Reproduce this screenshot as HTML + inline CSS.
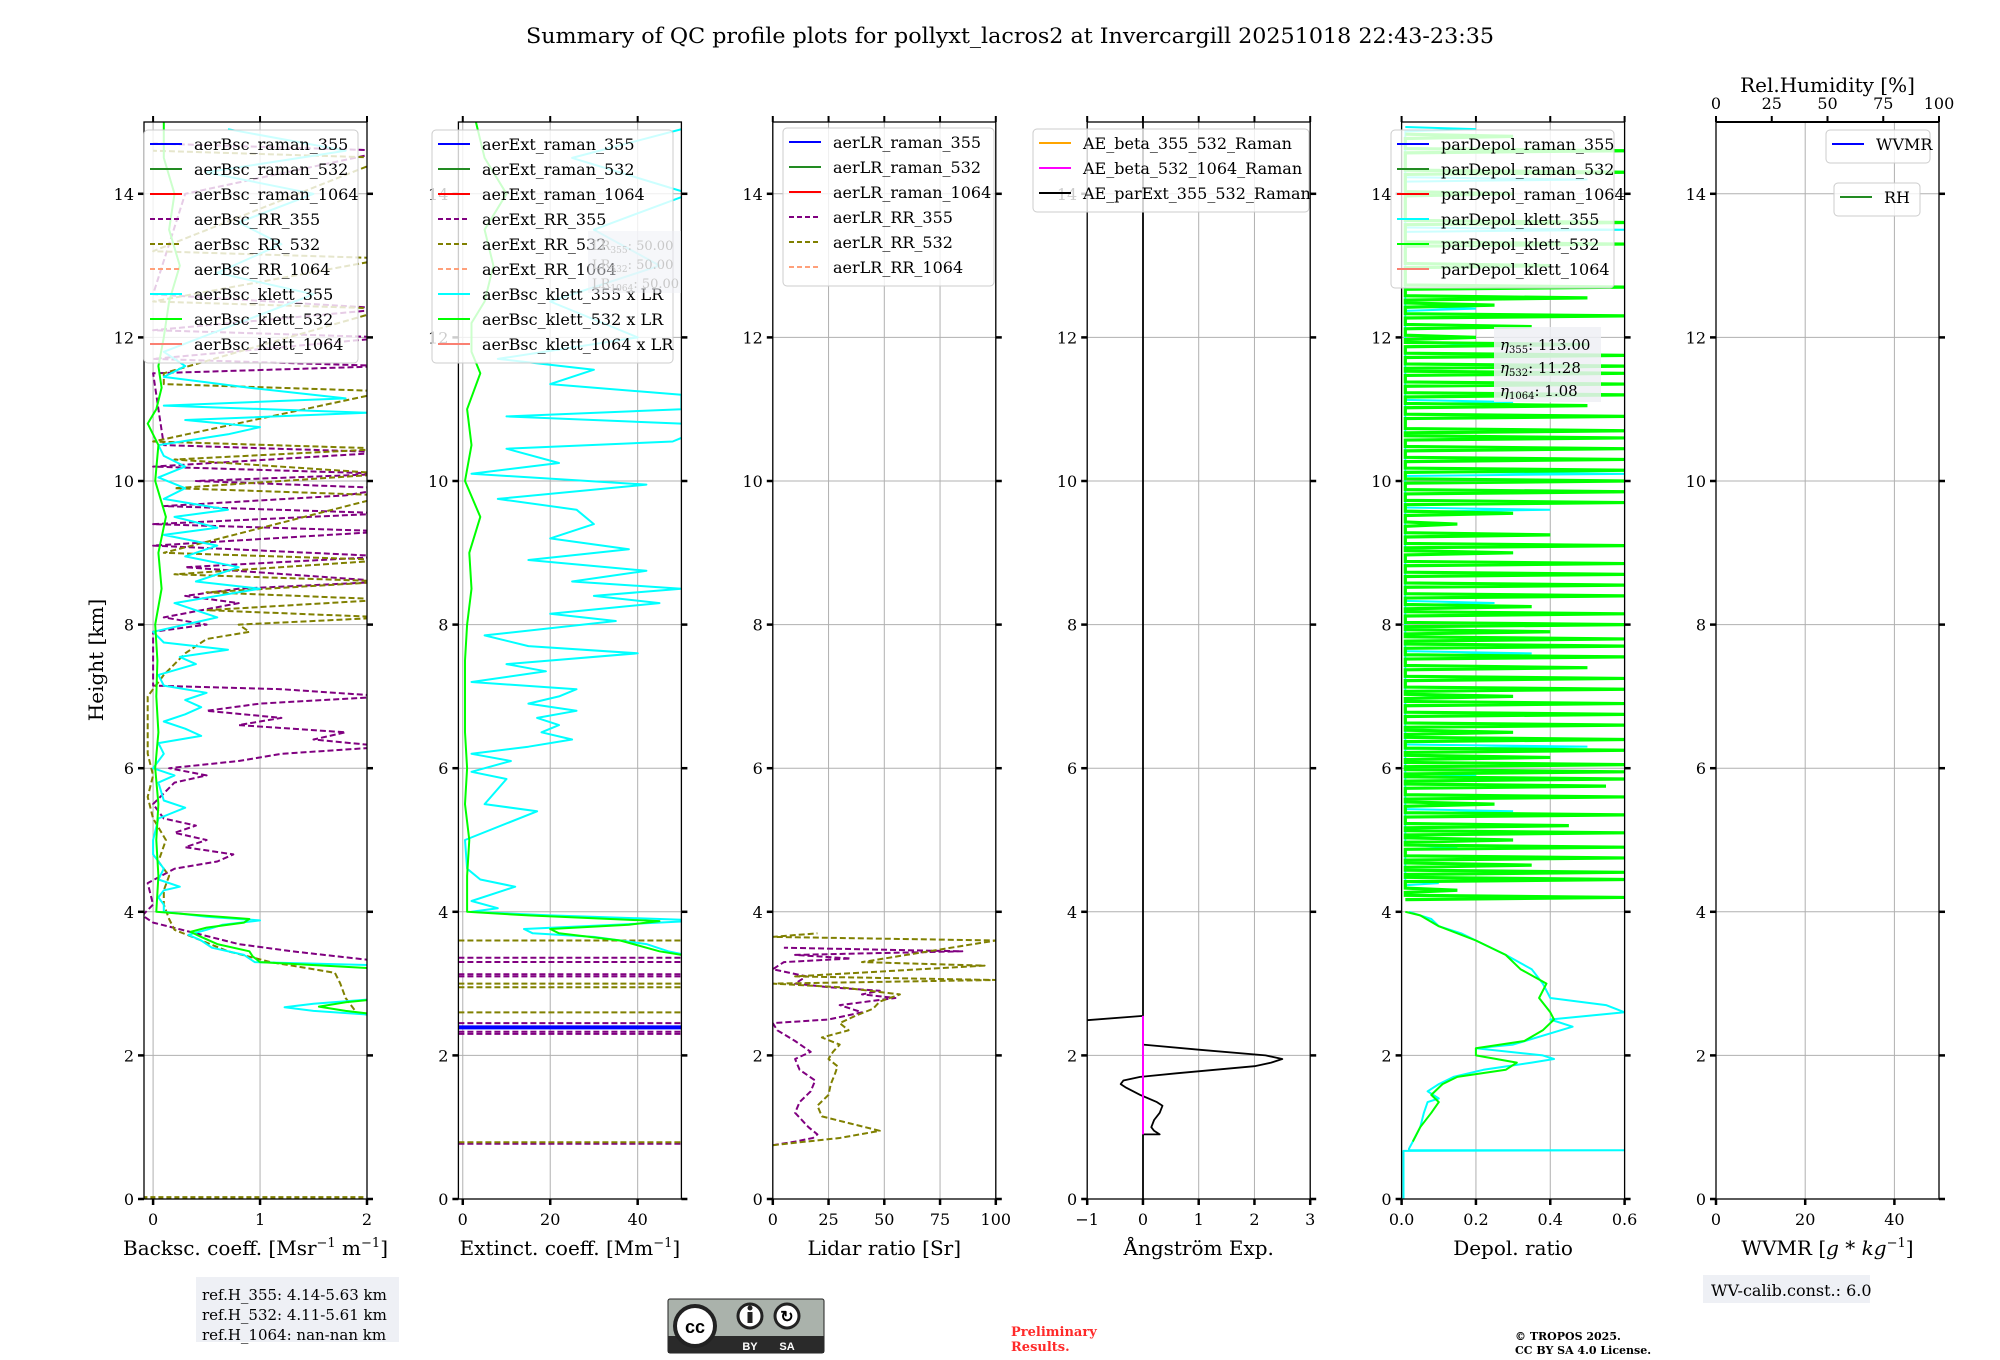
<!DOCTYPE html>
<html><head><meta charset="utf-8"><style>
html,body{margin:0;padding:0;background:#fff;}
svg{display:block;font-family:"DejaVu Serif","Liberation Serif",serif;}
</style></head><body>
<svg id="fig" width="2000" height="1360" viewBox="0 0 2000 1360" xmlns="http://www.w3.org/2000/svg">
<text x="1010" y="43" text-anchor="middle" font-size="21" textLength="968" lengthAdjust="spacingAndGlyphs">Summary of QC profile plots for pollyxt_lacros2 at Invercargill 20251018 22:43-23:35</text>
<g id="plots"></g>
<text transform="translate(103,660) rotate(-90)" text-anchor="middle" font-size="20">Height [km]</text>
<rect x="196" y="1277" width="203" height="65" fill="#eef0f5"/>
<text x="202" y="1300" font-size="15">ref.H_355: 4.14-5.63 km</text>
<text x="202" y="1320" font-size="15">ref.H_532: 4.11-5.61 km</text>
<text x="202" y="1340" font-size="15">ref.H_1064: nan-nan km</text>
<g>
<rect x="668" y="1299" width="156" height="54" rx="2" fill="#aab2ab" stroke="#222" stroke-width="1"/>
<rect x="668" y="1336" width="156" height="17" fill="#2a2a2a"/>
<circle cx="695" cy="1326" r="20" fill="#fff" stroke="#222" stroke-width="4"/>
<text x="695" y="1333" text-anchor="middle" font-size="18" font-weight="bold" font-family="Liberation Sans,sans-serif">cc</text>
<circle cx="750" cy="1316" r="12" fill="#fff" stroke="#222" stroke-width="3"/>
<rect x="747.5" y="1312" width="5" height="11" fill="#222"/><circle cx="750" cy="1308" r="2.5" fill="#222"/>
<circle cx="787" cy="1316" r="12" fill="#fff" stroke="#222" stroke-width="3"/>
<text x="787" y="1322" text-anchor="middle" font-size="16" font-weight="bold" font-family="Liberation Sans,sans-serif">↻</text>
<text x="750" y="1350" text-anchor="middle" font-size="11" fill="#fff" font-weight="bold" font-family="Liberation Sans,sans-serif">BY</text>
<text x="787" y="1350" text-anchor="middle" font-size="11" fill="#fff" font-weight="bold" font-family="Liberation Sans,sans-serif">SA</text>
</g>
<text x="1011" y="1336" font-size="13" font-weight="bold" fill="#ff2a2a">Preliminary</text>
<text x="1011" y="1351" font-size="13" font-weight="bold" fill="#ff2a2a">Results.</text>
<text x="1515" y="1340" font-size="11" font-weight="bold">© TROPOS 2025.</text>
<text x="1515" y="1354" font-size="11" font-weight="bold">CC BY SA 4.0 License.</text>
<rect x="1703" y="1275" width="167" height="28" fill="#eef0f5"/>
<text x="1711" y="1296" font-size="16">WV-calib.const.: 6.0</text>
</svg>
<script>
// ---------- DATA ----------
// Panel 1 : backscatter
const bscKlett355H=[2.55,2.62,2.67,2.72,2.8,3.25,3.3,3.4,3.5,3.6,3.68,3.75,3.82,3.88,3.93,4.0,4.1,4.2,4.3,4.35,4.45,4.6,4.8,5.0,5.3,5.45,5.55,5.8,5.9,6.0,6.2,6.35,6.45,6.55,6.65,6.75,6.85,6.95,7.05,7.15,7.3,7.45,7.55,7.65,7.75,7.9,8.1,8.3,8.5,8.6,8.8,8.95,9.1,9.25,9.35,9.5,9.6,9.75,9.9,10.05,10.2,10.35,10.5,10.65,10.75,10.85,10.95,11.05,11.15,11.3,11.45,11.6,11.8,12.2,12.6,12.9,13.3,13.6,14.0,14.3,14.6,14.9];
const bscKlett355V=[2.2,1.5,1.23,1.5,2.2,2.2,0.95,0.85,0.55,0.45,0.33,0.5,0.65,1.0,0.5,0.1,0.1,0.05,0.1,0.25,0.05,0.1,0.0,0.0,0.05,0.3,0.1,0.05,0.2,0.0,0.1,0.05,0.45,0.3,0.1,0.3,0.45,0.3,0.5,0.1,0.05,0.4,0.25,0.7,0.1,0.0,0.6,0.2,1.0,0.4,0.8,0.3,0.6,0.1,0.6,0.2,0.7,0.1,0.3,0.05,0.3,0.1,0.05,0.7,1.0,0.3,2.0,0.1,1.8,0.9,0.1,0.3,0.1,0.8,1.5,0.6,1.2,0.8,1.5,0.5,1.8,0.7];
const bscKlett532H=[2.55,2.62,2.68,2.74,2.8,3.2,3.3,3.38,3.45,3.55,3.65,3.72,3.78,3.85,3.9,3.95,4.0,4.5,5.0,5.5,6.0,6.5,7.0,7.5,8.0,8.5,9.0,9.5,10.0,10.5,10.8,11.0,11.3,11.6,12.0,12.5,13.0,13.5,14.0,14.5,15.0];
const bscKlett532V=[2.2,1.8,1.55,1.8,2.2,2.2,1.0,0.93,0.9,0.6,0.45,0.35,0.5,0.85,0.9,0.45,0.03,0.05,0.03,0.05,0.02,0.05,0.03,0.04,0.02,0.08,0.05,0.12,0.02,0.05,-0.05,0.03,0.08,0.05,0.1,0.15,0.25,0.15,0.2,0.1,0.1];
const bscRR355H=[3.3,3.45,3.55,3.7,3.85,3.95,4.1,4.4,4.6,4.7,4.8,4.9,5.0,5.1,5.2,5.3,5.5,5.8,5.9,6.0,6.1,6.2,6.3,6.4,6.5,6.6,6.7,6.8,6.9,7.0,7.1,7.15,7.9,8.0,8.1,8.3,8.4,8.5,8.6,8.8,8.95,9.1,9.3,9.4,9.55,9.65,9.8,9.9,10.0,10.1,10.2,10.4,10.5,11.5,11.6,11.7,12.0,12.1,12.4,12.6,14.0,14.6,14.7];
const bscRR355V=[2.2,1.3,0.8,0.4,0.0,-0.1,0.0,-0.05,0.2,0.6,0.75,0.3,0.5,0.2,0.4,0.1,0.0,0.2,0.5,0.15,0.8,1.2,2.2,1.5,1.8,0.8,1.2,0.5,1.0,2.2,1.2,0.0,0.0,0.5,0.1,0.8,0.3,0.8,2.2,0.3,2.2,0.0,2.2,0.0,2.2,0.1,1.8,2.2,0.4,2.2,0.0,2.2,0.1,0.0,2.2,0.0,2.2,0.0,2.2,0.0,0.3,2.2,0.0];
const bscRR532H=[2.5,2.6,2.8,3.0,3.15,3.3,3.45,3.6,3.75,3.9,4.1,4.3,4.5,4.7,5.0,5.3,5.6,5.9,6.2,7.0,7.3,7.6,7.8,7.9,8.0,8.1,8.2,8.35,8.45,8.6,8.7,8.9,9.0,9.8,9.9,10.1,10.3,10.45,10.55,11.25,11.35,11.5,12.4,12.5,13.1,13.2,14.5,14.6];
const bscRR532V=[2.2,1.9,1.8,1.75,1.7,1.1,0.7,0.45,0.2,0.15,0.1,0.1,0.15,0.05,0.12,0.0,-0.05,0.0,-0.05,-0.05,0.1,0.3,0.5,0.9,0.8,2.2,0.5,2.2,0.5,2.2,0.2,2.2,0.1,2.2,0.2,2.2,0.2,2.2,0.0,2.2,0.1,0.1,2.2,0.0,2.2,0.0,2.2,0.0];
const bscGroundH=[0.02,0.02];
const bscGroundV=[-0.1,2.2];
// Panel 2 : extinction
const extKlett355H=[3.35,3.45,3.55,3.65,3.7,3.76,3.82,3.88,3.95,4.0,4.05,4.15,4.35,4.45,4.6,5.0,5.4,5.5,5.85,5.95,6.1,6.2,6.3,6.4,6.5,6.6,6.7,6.8,6.9,7.0,7.1,7.2,7.35,7.45,7.6,7.7,7.85,8.05,8.15,8.3,8.4,8.5,8.6,8.75,8.9,9.05,9.2,9.4,9.6,9.75,9.95,10.1,10.25,10.45,10.55,10.65,10.8,10.9,11.0,11.2,11.35,11.55,11.7,12.0,12.5,13.0,13.5,14.0,14.5,14.9];
const extKlett355V=[55,47,42,30,16,14,35,55,20,2,8,2,12,4,1,0.5,17,5,10,2,11,2,15,25,18,22,17,26,15,22,26,2,19,10,40,15,5,35,20,45,30,50,25,42,15,38,20,30,26,8,42,2,22,10,48,52,50,10,50,50,20,30,8,40,20,45,30,52,25,50];
const extKlett532H=[3.35,3.45,3.6,3.7,3.76,3.82,3.87,3.95,4.0,4.5,5.0,5.5,6.0,6.5,7.0,7.5,8.0,8.5,9.0,9.5,10.0,10.5,11.0,11.5,11.8,12.2,12.5,13.0,13.5,14.0,14.5,15.0];
const extKlett532V=[55,45,36,22,20,38,45,15,1,1,1.5,0.5,1,0.5,0.5,0.5,1,2,1.5,4,0.5,2,1,4,2,2,5,7,5,10,5,3];
const extRR355LineH=[0.77,2.3,2.33,2.45,3.1,3.13,3.3,3.36];
const extRR532LineH=[0.79,2.6,2.95,3.0,3.6];
const extRaman355LineH=[2.38,2.4];
// Panel 3 : lidar ratio
const lrRR355H=[0.75,0.8,0.85,0.9,1.0,1.2,1.35,1.5,1.65,1.8,1.95,2.05,2.2,2.35,2.45,2.5,2.6,2.7,2.8,2.85,2.9,2.95,3.0,3.1,3.2,3.3,3.35,3.4,3.45,3.5];
const lrRR355V=[0,10,18,20,16,10,12,17,19,12,10,17,10,2,0,25,40,30,55,40,48,25,10,15,0,5,35,10,85,5];
const lrRR532H=[0.75,0.85,0.95,1.05,1.15,1.3,1.45,1.6,1.75,1.85,1.95,2.05,2.15,2.25,2.35,2.45,2.55,2.65,2.75,2.85,2.95,3.0,3.05,3.1,3.25,3.3,3.6,3.65,3.7];
const lrRR532V=[0,30,48,35,22,20,25,26,28,29,25,27,30,22,34,30,37,45,48,57,30,0,100,10,95,40,100,0,20];
// Panel 4 : Angstrom
const aeParExtLowH=[0,0.9,0.9,0.95,1.0,1.1,1.2,1.3,1.35,1.45,1.55,1.6,1.65,1.7,1.75,1.85,1.9,1.95,2.0,2.08,2.15];
const aeParExtLowV=[0,0,0.3,0.2,0.15,0.2,0.3,0.35,0.25,-0.05,-0.3,-0.4,-0.35,-0.05,0.6,2.0,2.3,2.5,2.2,1.0,0];
const aeParExtHighH=[2.49,2.55,15];
const aeParExtHighV=[-1,0,0];
const aeBeta532H=[0.9,2.55];
const aeBeta532V=[0,0];
// Panel 5 : depol
const depK355H=[0,0.67,0.68,0.68,0.7,0.8,1.0,1.2,1.35,1.4,1.5,1.6,1.7,1.8,1.9,1.95,2.0,2.1,2.15,2.4,2.5,2.55,2.6,2.7,2.8,3.0,3.2,3.4,3.6,3.7,3.8,3.9,4.0];
const depK355V=[0.005,0.005,0.6,0.02,0.02,0.03,0.05,0.06,0.07,0.1,0.07,0.1,0.14,0.22,0.35,0.41,0.38,0.2,0.3,0.46,0.4,0.5,0.6,0.55,0.4,0.38,0.35,0.28,0.2,0.16,0.1,0.08,0.02];
const depK532H=[0.8,1.0,1.2,1.35,1.45,1.6,1.7,1.8,1.9,2.0,2.1,2.2,2.35,2.5,2.6,2.8,3.0,3.2,3.4,3.6,3.8,3.95,4.0];
const depK532V=[0.03,0.05,0.08,0.1,0.08,0.11,0.15,0.28,0.31,0.2,0.2,0.33,0.38,0.41,0.4,0.37,0.39,0.32,0.28,0.2,0.1,0.05,0.01];
const depK532SpikeH=[4.2,4.3,4.45,4.55,4.65,4.75,4.9,5.0,5.1,5.2,5.35,5.5,5.6,5.75,5.85,5.95,6.05,6.15,6.25,6.4,6.5,6.6,6.75,6.9,7.0,7.1,7.25,7.4,7.55,7.7,7.8,7.9,8.0,8.15,8.25,8.4,8.55,8.7,8.85,9.0,9.1,9.25,9.4,9.55,9.7,9.85,10.0,10.15,10.3,10.45,10.6,10.7,10.9,11.05,11.2,11.35,11.5,11.6,11.75,11.9,12.0,12.15,12.3,12.45,12.55,12.7,13.0,13.3,13.6,14.0,14.3,14.6,14.8];
const depK532SpikeV=[0.6,0.15,0.6,0.6,0.35,0.6,0.6,0.3,0.6,0.45,0.6,0.25,0.6,0.55,0.6,0.6,0.6,0.4,0.6,0.6,0.3,0.6,0.6,0.6,0.3,0.6,0.6,0.5,0.6,0.6,0.6,0.4,0.6,0.6,0.35,0.6,0.6,0.6,0.6,0.3,0.6,0.4,0.15,0.3,0.6,0.6,0.6,0.6,0.6,0.6,0.6,0.6,0.6,0.5,0.6,0.6,0.6,0.6,0.6,0.5,0.2,0.35,0.6,0.25,0.5,0.6,0.4,0.6,0.6,0.3,0.6,0.6,0.3];
const depK355SpikeH=[4.4,4.9,5.4,5.9,6.3,7.0,7.6,7.8,8.3,9.0,9.6,10.1,10.6,11.1,11.9,12.4,13.5,14.2,14.9];
const depK355SpikeV=[0.1,0.15,0.3,0.2,0.5,0.15,0.35,0.6,0.25,0.3,0.4,0.6,0.3,0.3,0.25,0.2,0.6,0.5,0.2];
// tick labels
const yTicks=[0,2,4,6,8,10,12,14];
const xTicksP1=[0,1,2], xTicksP2=[0,20,40], xTicksP3=[0,25,50,75,100], xTicksP4=[-1,0,1,2,3];
const xTicksP5=[0.0,0.2,0.4,0.6], xTicksP5Lab=["0.0","0.2","0.4","0.6"], xTicksP6=[0,20,40], rhTicks=[0,25,50,75,100];

// ---------- DRAW ----------
const NS="http://www.w3.org/2000/svg";
const root=document.getElementById('plots');
const TOP=122,BOT=1199,HMAX=15,PW=223;
const lefts=[144,458.4,772.8,1087.2,1401.6,1716];
const xlims=[[-0.085,2],[-1,50],[0,100],[-1,3],[0,0.6],[0,50]];
function yS(h){return BOT-(h/HMAX)*(BOT-TOP);}
function xS(p,v){const l=xlims[p];return lefts[p]+(v-l[0])/(l[1]-l[0])*PW;}
function mk(tag,attrs,parent){const e=document.createElementNS(NS,tag);for(const k in attrs)e.setAttribute(k,attrs[k]);(parent||root).appendChild(e);return e;}
const defs=mk('defs',{});
for(let p=0;p<6;p++){const c=mk('clipPath',{id:'clip'+p},defs);mk('rect',{x:lefts[p],y:TOP,width:PW,height:BOT-TOP},c);}
function series(p,H,V,color,w,dash,name){
  let pts=[];for(let i=0;i<H.length;i++)pts.push(xS(p,V[i]).toFixed(1)+','+yS(H[i]).toFixed(1));
  const e=mk('polyline',{points:pts.join(' '),fill:'none',stroke:color,'stroke-width':w,'clip-path':'url(#clip'+p+')','stroke-linejoin':'round'});
  if(dash)e.setAttribute('stroke-dasharray',dash);
  
  
}
function spikes(p,H,V,base,color,w,name){
  let pts=[];for(let i=0;i<H.length;i++){pts.push(xS(p,base)+','+yS(H[i]-0.03));pts.push(xS(p,V[i])+','+yS(H[i]));pts.push(xS(p,base)+','+yS(H[i]+0.03));}
  const e=mk('polyline',{points:pts.join(' '),fill:'none',stroke:color,'stroke-width':w,'clip-path':'url(#clip'+p+')'});
  
  
}
function hlines(p,H,color,w,dash,name){
  H.forEach(h=>{const e=mk('line',{x1:lefts[p],x2:lefts[p]+PW,y1:yS(h),y2:yS(h),stroke:color,'stroke-width':w,'clip-path':'url(#clip'+p+')'});
    if(dash)e.setAttribute('stroke-dasharray',dash);
    
    });
}
function axes(p,xt){
  const g=mk('g',{});
  
  
  const L=lefts[p],R=L+PW;
  yTicks.forEach(h=>{if(h>0)mk('line',{x1:L,x2:R,y1:yS(h),y2:yS(h),stroke:'#b0b0b0','stroke-width':1},g);});
  xt.forEach(v=>{mk('line',{x1:xS(p,v),x2:xS(p,v),y1:TOP,y2:BOT,stroke:'#b0b0b0','stroke-width':1},g);});
  return g;
}
function frame(p,xt,xlab,xtitle,topTicks){
  const g=mk('g',{});
  
  
  const L=lefts[p],R=L+PW;
  mk('rect',{x:L,y:TOP,width:PW,height:BOT-TOP,fill:'none',stroke:'#000','stroke-width':1.3},g);
  yTicks.forEach(h=>{
    mk('line',{x1:L-6,x2:L,y1:yS(h),y2:yS(h),stroke:'#000','stroke-width':2.5},g);
    mk('line',{x1:R,x2:R+6,y1:yS(h),y2:yS(h),stroke:'#000','stroke-width':2.5},g);
    const t=mk('text',{x:L-10,y:yS(h)+6,'text-anchor':'end','font-size':16},g);t.textContent=h;
    
    
  });
  xt.forEach((v,i)=>{
    mk('line',{x1:xS(p,v),x2:xS(p,v),y1:BOT,y2:BOT+6,stroke:'#000','stroke-width':2.5},g);
    if(topTicks)mk('line',{x1:xS(p,v),x2:xS(p,v),y1:TOP-6,y2:TOP,stroke:'#000','stroke-width':2},g);
    const t=mk('text',{x:xS(p,v),y:BOT+26,'text-anchor':'middle','font-size':16},g);t.textContent=xlab[i];
    
    
  });
  const t=mk('text',{x:L+PW/2,y:1255,'text-anchor':'middle','font-size':20},g);t.innerHTML=xtitle;
  
  
}
function legend(x,y,w,rows,name){
  const g=mk('g',{});
  
  
  mk('rect',{x:x,y:y,width:w,height:rows.length*25+8,rx:4,fill:'#fff','fill-opacity':0.8,stroke:'#ccc','stroke-width':1},g);
  rows.forEach((r,i)=>{
    const yy=y+14+i*25;
    const l=mk('line',{x1:x+6,x2:x+38,y1:yy,y2:yy,stroke:r[1],'stroke-width':2},g);
    if(r[2])l.setAttribute('stroke-dasharray','5,3');
    const t=mk('text',{x:x+50,y:yy+6,'font-size':16},g);t.innerHTML=r[0];
    
    
  });
}
const CY='#00ffff',LM='#00ff00',PU='#800080',OL='#808000';
axes(0,xTicksP1);axes(1,xTicksP2);axes(2,xTicksP3);axes(3,xTicksP4);axes(4,xTicksP5);axes(5,xTicksP6);
// P1
series(0,bscGroundH,bscGroundV,OL,3,'5,3','bsc-ground-line');
series(0,bscRR355H,bscRR355V,PU,2,'6,3','bsc-rr-355');
series(0,bscRR532H,bscRR532V,OL,2,'6,3','bsc-rr-532');
series(0,bscKlett355H,bscKlett355V,CY,2,null,'bsc-klett-355');
series(0,bscKlett532H,bscKlett532V,LM,2,null,'bsc-klett-532');
// P2
hlines(1,extRR355LineH,PU,2,'6,3','ext-rr-355');
hlines(1,extRR532LineH,OL,2,'6,3','ext-rr-532');
hlines(1,extRaman355LineH,'#0000ff',2.5,null,'ext-raman-355');
series(1,extKlett355H,extKlett355V,CY,2,null,'ext-klett-355');
series(1,extKlett532H,extKlett532V,LM,2,null,'ext-klett-532');
// P3
series(2,lrRR355H,lrRR355V,PU,2,'6,3','lr-rr-355');
series(2,lrRR532H,lrRR532V,OL,2,'6,3','lr-rr-532');
// P4
series(3,aeParExtLowH,aeParExtLowV,'#000',1.8,null,'ae-parext-low');
series(3,aeParExtHighH,aeParExtHighV,'#000',1.8,null,'ae-parext-high');
series(3,aeBeta532H,aeBeta532V,'#ff00ff',2,null,'ae-beta-532-1064');
// P5
series(4,depK355H,depK355V,CY,2,null,'depol-klett-355');
spikes(4,depK355SpikeH,depK355SpikeV,0.01,CY,2,'depol-klett-355-upper');
spikes(4,depK532SpikeH,depK532SpikeV,0.01,LM,3.2,'depol-klett-532-upper');
series(4,depK532H,depK532V,LM,2,null,'depol-klett-532');
// frames
frame(0,xTicksP1,xTicksP1,'Backsc. coeff. [Msr<tspan dy="-8" font-size="13">−1</tspan><tspan dy="8"> m</tspan><tspan dy="-8" font-size="13">−1</tspan><tspan dy="8">]</tspan>',true);
frame(1,xTicksP2,xTicksP2,'Extinct. coeff. [Mm<tspan dy="-8" font-size="13">−1</tspan><tspan dy="8">]</tspan>',true);
frame(2,xTicksP3,xTicksP3,'Lidar ratio [Sr]',true);
frame(3,xTicksP4,xTicksP4.map(v=>v<0?'−1':String(v)),'Ångström Exp.',true);
frame(4,xTicksP5,xTicksP5Lab,'Depol. ratio',true);
frame(5,xTicksP6,xTicksP6,'WVMR [<tspan font-style="italic">g</tspan> * <tspan font-style="italic">kg</tspan><tspan dy="-8" font-size="13">−1</tspan><tspan dy="8">]</tspan>',false);
(function(){
  const g=mk('g',{});
  
  
  rhTicks.forEach(v=>{const x=lefts[5]+v/100*PW;
    mk('line',{x1:x,x2:x,y1:TOP-6,y2:TOP,stroke:'#000','stroke-width':2},g);
    const t=mk('text',{x:x,y:TOP-13,'text-anchor':'middle','font-size':16},g);t.textContent=v;
    
    });
  mk('line',{x1:lefts[5],x2:lefts[5]+PW,y1:TOP,y2:TOP,stroke:'#000','stroke-width':2},g);
  const t=mk('text',{x:lefts[5]+PW/2,y:92,'text-anchor':'middle','font-size':20},g);t.textContent='Rel.Humidity [%]';
  
  
})();
legend(144,130,214,[['aerBsc_raman_355','#0000ff'],['aerBsc_raman_532','#228b22'],['aerBsc_raman_1064','#ff0000'],['aerBsc_RR_355',PU,1],['aerBsc_RR_532',OL,1],['aerBsc_RR_1064','#ffa07a',1],['aerBsc_klett_355',CY],['aerBsc_klett_532',LM],['aerBsc_klett_1064','#fa8072']],'legend-backscatter');
legend(432,130,241,[['aerExt_raman_355','#0000ff'],['aerExt_raman_532','#228b22'],['aerExt_raman_1064','#ff0000'],['aerExt_RR_355',PU,1],['aerExt_RR_532',OL,1],['aerExt_RR_1064','#ffa07a',1],['aerBsc_klett_355 x LR',CY],['aerBsc_klett_532 x LR',LM],['aerBsc_klett_1064 x LR','#fa8072']],'legend-extinction');
legend(783,128,211,[['aerLR_raman_355','#0000ff'],['aerLR_raman_532','#228b22'],['aerLR_raman_1064','#ff0000'],['aerLR_RR_355',PU,1],['aerLR_RR_532',OL,1],['aerLR_RR_1064','#ffa07a',1]],'legend-lidar-ratio');
legend(1033,129,276,[['AE_beta_355_532_Raman','#ffa500'],['AE_beta_532_1064_Raman','#ff00ff'],['AE_parExt_355_532_Raman','#000']],'legend-angstrom');
legend(1391,130,223,[['parDepol_raman_355','#0000ff'],['parDepol_raman_532','#228b22'],['parDepol_raman_1064','#ff0000'],['parDepol_klett_355',CY],['parDepol_klett_532',LM],['parDepol_klett_1064','#fa8072']],'legend-depol');
legend(1826,130,104,[['WVMR','#0000ff']],'legend-wvmr');
legend(1834,183,86,[['RH','#228b22']],'legend-rh');
(function(){
  const g=mk('g',{});
  
  
  mk('rect',{x:1494,y:327,width:107,height:75,fill:'#eef0f5','fill-opacity':0.85},g);
  [['355','113.00'],['532','11.28'],['1064','1.08']].forEach((r,i)=>{
    const t=mk('text',{x:1500,y:350+i*23,'font-size':15},g);
    t.innerHTML='<tspan font-style="italic">η</tspan><tspan font-size="10" dy="3">'+r[0]+'</tspan><tspan dy="-3">: '+r[1]+'</tspan>';
    
    });
  const g2=mk('g',{});
  
  
  mk('rect',{x:588,y:231,width:93,height:62,fill:'#eef0f5','fill-opacity':0.5},g2);
  [['355'],['532'],['1064']].forEach((r,i)=>{
    const t=mk('text',{x:592,y:250+i*19,'font-size':13,fill:'#c8c8c8'},g2);
    t.innerHTML='LR<tspan font-size="9" dy="3">'+r[0]+'</tspan><tspan dy="-3">: 50.00</tspan>';
    
    });
})();
</script>
</body></html>
